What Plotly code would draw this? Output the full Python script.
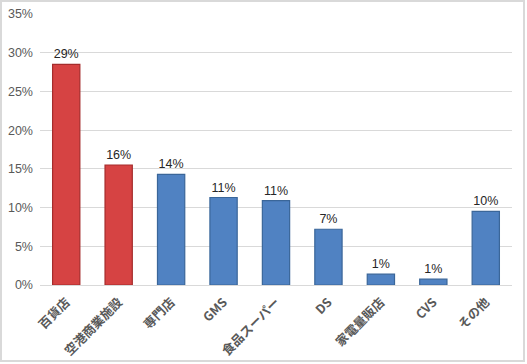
import plotly.graph_objects as go

categories = ["百貨店", "空港商業施設", "専門店", "GMS", "食品スーパー", "DS", "家電量販店", "CVS", "その他"]
values = [28.5, 15.5, 14.3, 11.3, 10.9, 7.2, 1.4, 0.75, 9.5]
labels = ["29%", "16%", "14%", "11%", "11%", "7%", "1%", "1%", "10%"]
highlight = [True, True, False, False, False, False, False, False, False]
y_ticks = [0, 5, 10, 15, 20, 25, 30, 35]
y_tick_text = ["0%", "5%", "10%", "15%", "20%", "25%", "30%", "35%"]

RED = "#D64343"
RED_LINE = "#A52C2C"
BLUE = "#5082C2"
BLUE_LINE = "#3A6699"

fill = [RED if h else BLUE for h in highlight]
edge = [RED_LINE if h else BLUE_LINE for h in highlight]

fig = go.Figure(go.Bar(
    x=categories,
    y=values,
    text=labels,
    textposition="outside",
    cliponaxis=False,
    textfont=dict(family="Liberation Sans, Arial, sans-serif", size=12.5, color="#262626"),
    marker=dict(color=fill, line=dict(color=edge, width=1.2)),
    hoverinfo="skip",
))

W, H = 527, 364
L, R, T, B = 40, 15, 14, 79
pw, ph = W - L - R, H - T - B

def px(x):
    return (x - L) / pw

def py(y):
    return (H - B - y) / ph

fig.add_shape(type="rect", xref="paper", yref="paper",
              x0=px(1), x1=px(524), y0=py(361), y1=py(1),
              line=dict(color="#D9D9D9", width=2), fillcolor="rgba(0,0,0,0)", layer="below")

fig.update_layout(
    width=W, height=H,
    margin=dict(l=L, r=R, t=T, b=B, autoexpand=False),
    paper_bgcolor="white",
    plot_bgcolor="white",
    bargap=0.48,
    showlegend=False,
    font=dict(family="Liberation Sans, Noto Sans CJK JP, sans-serif", color="#595959"),
    xaxis=dict(
        automargin=False,
        tickangle=-45,
        tickfont=dict(family="Noto Sans CJK JP, sans-serif", size=12.5, color="#595959", weight="bold"),
        showgrid=False,
        showline=True, linecolor="#D9D9D9", linewidth=1,
        ticks="",
        ticklabelstandoff=4,
    ),
    yaxis=dict(
        automargin=False,
        range=[0, 35],
        tickvals=y_ticks,
        ticktext=y_tick_text,
        tickfont=dict(family="Liberation Sans, Arial, sans-serif", size=12.5, color="#595959"),
        showgrid=True, gridcolor="#D9D9D9", gridwidth=1,
        zeroline=False,
        ticks="",
        ticklabelstandoff=6,
    ),
)

fig.write_html("out.html",
               config={"displayModeBar": False},
               post_script="document.body.style.margin='0';document.body.style.overflow='hidden';")
